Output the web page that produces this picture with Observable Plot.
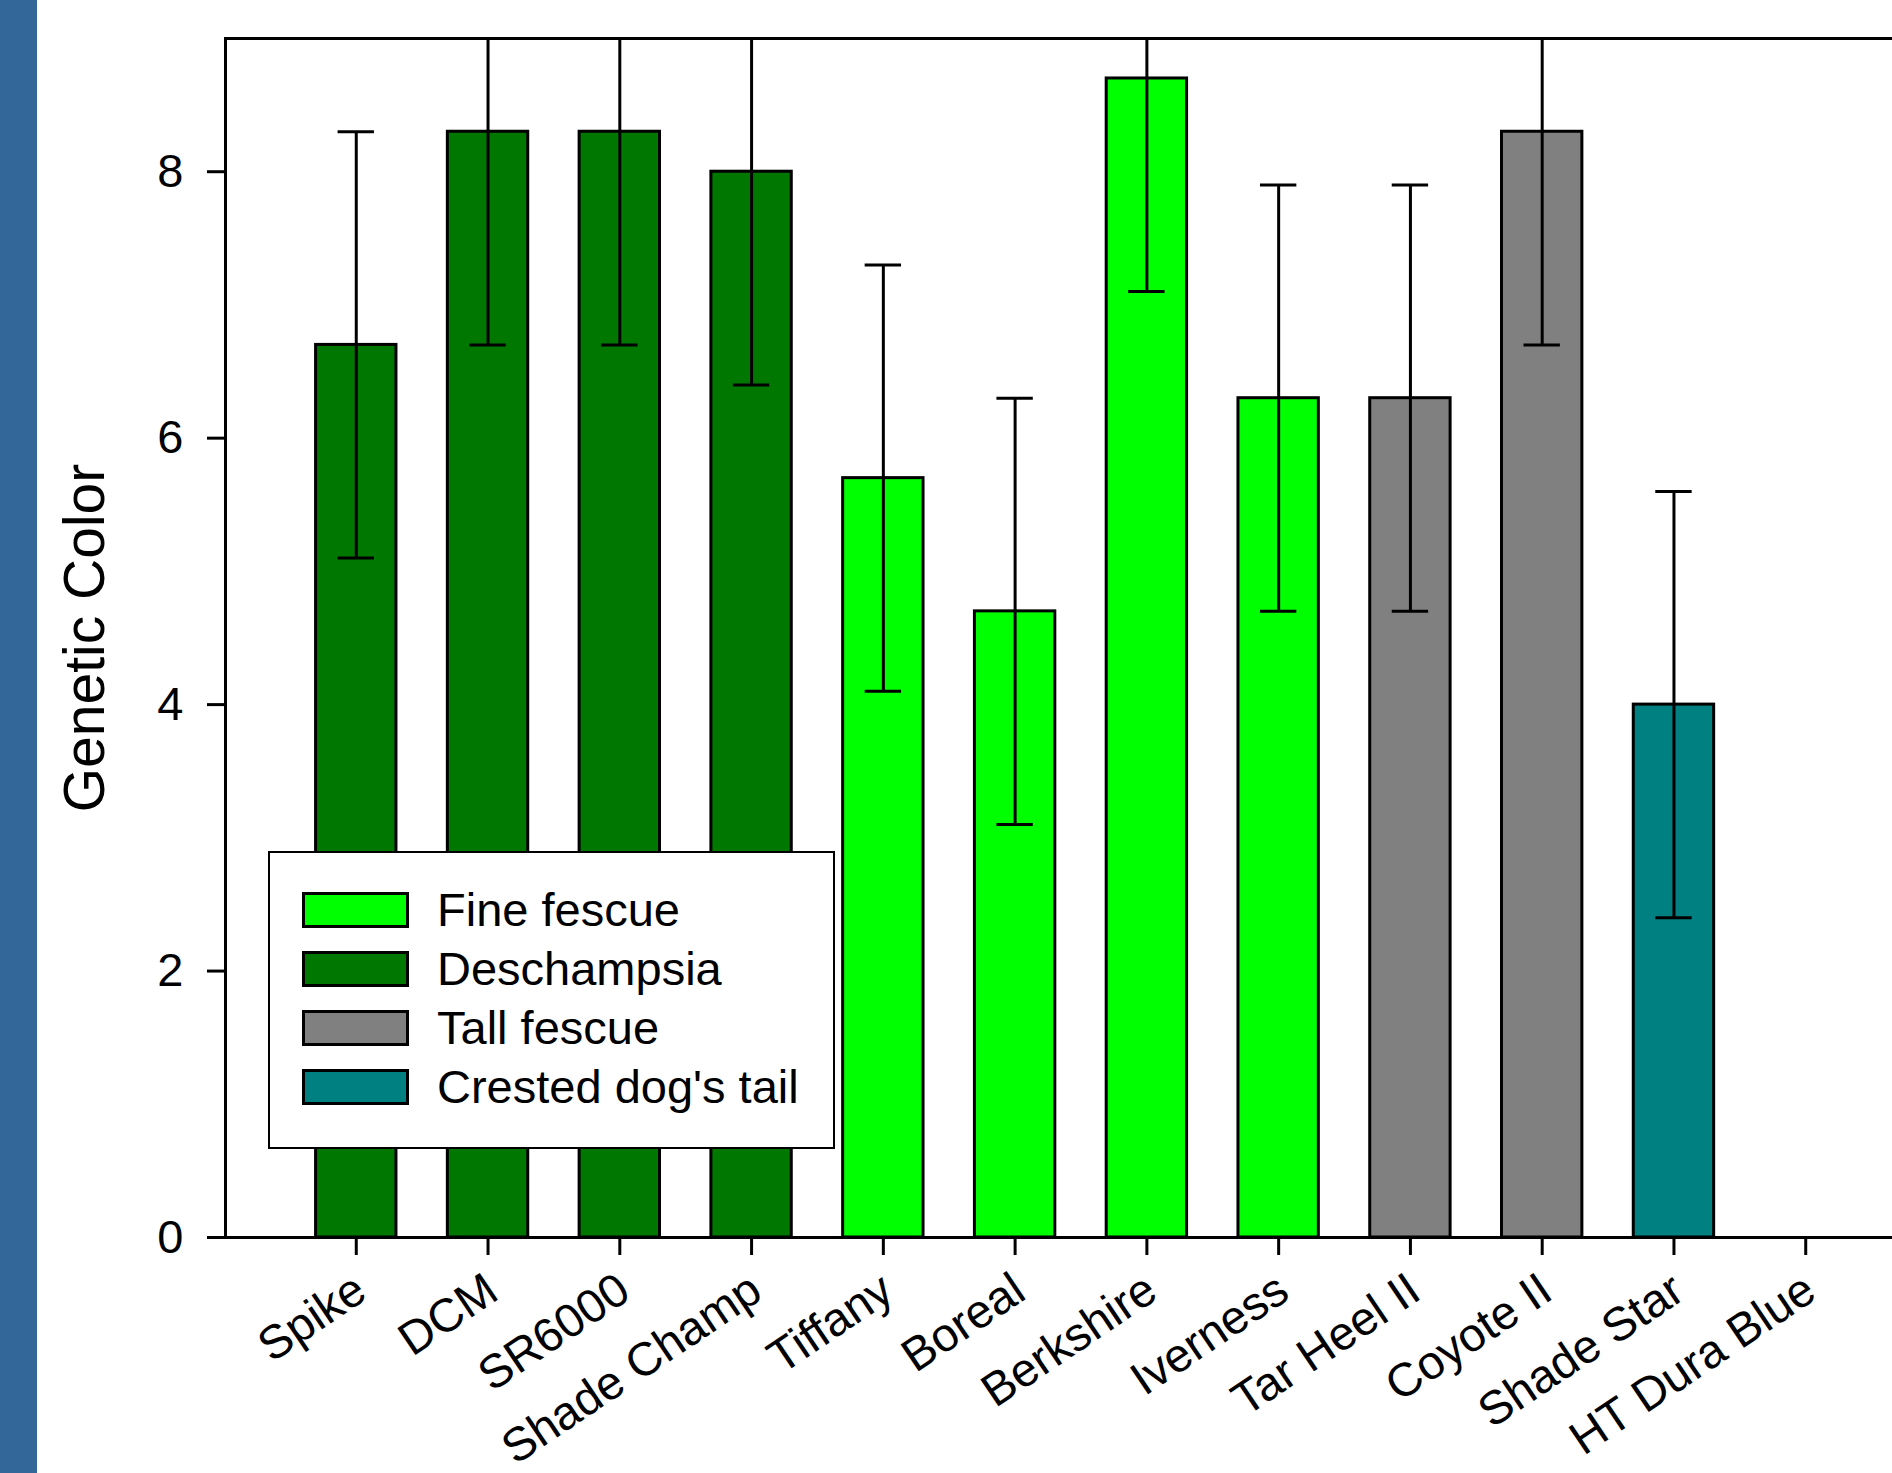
<!DOCTYPE html>
<html>
<head>
<meta charset="utf-8">
<script src="https://cdn.jsdelivr.net/npm/d3@7"></script>
<script src="https://cdn.jsdelivr.net/npm/@observablehq/plot@0.6"></script>
<style>
  body { margin: 0; background: #fff; }
  #wrap { position: relative; width: 1892px; height: 1473px; overflow: hidden; font-family: "Liberation Sans", Arial, sans-serif; }
  #chart { position: absolute; left: 0; top: 0; }
  #strip { position: absolute; left: 0; top: 0; width: 37px; height: 1473px; background: #336699; }
  #legend { position: absolute; left: 268px; top: 851px; width: 567px; height: 298px; box-sizing: border-box;
            border: 2.5px solid #000; background: #fff; }
  .row { position: absolute; left: 32px; height: 36px; display: flex; align-items: center; }
  .sw { width: 107px; height: 36px; box-sizing: border-box; border: 3px solid #000; }
  .lab { margin-left: 28px; font-size: 47px; color: #000; white-space: nowrap; line-height: 1; }
</style>
</head>
<body>
<div id="wrap">
  <div id="chart"></div>
  <div id="strip"></div>
  <div id="legend"></div>
</div>
<script>
const categories = ["Spike", "DCM", "SR6000", "Shade Champ", "Tiffany", "Boreal", "Berkshire", "Iverness", "Tar Heel II", "Coyote II", "Shade Star", "HT Dura Blue"];
const groups = ["Deschampsia", "Deschampsia", "Deschampsia", "Deschampsia", "Fine fescue", "Fine fescue", "Fine fescue", "Fine fescue", "Tall fescue", "Tall fescue", "Crested dog's tail", "Tall fescue"];
const means = [6.7, 8.3, 8.3, 8.0, 5.7, 4.7, 8.7, 6.3, 6.3, 8.3, 4.0, null];
const errors = [1.6, 1.6, 1.6, 1.6, 1.6, 1.6, 1.6, 1.6, 1.6, 1.6, 1.6, null];
const groupOrder = ["Fine fescue", "Deschampsia", "Tall fescue", "Crested dog's tail"];
const groupColors = ["#00ff00", "#007800", "#808080", "#008080"];
const yTicks = [0, 2, 4, 6, 8];
const yLabel = "Genetic Color";

const data = categories.map((name, i) => ({
  name, group: groups[i], mean: means[i],
  lo: means[i] == null ? null : means[i] - errors[i],
  hi: means[i] == null ? null : means[i] + errors[i]
}));
const valid = data.filter(d => d.mean != null);

const font = '"Liberation Sans", Arial, sans-serif';
const chart = Plot.plot({
  width: 1892, height: 1473,
  marginLeft: 225, marginRight: 0, marginTop: 38, marginBottom: 236,
  style: { fontFamily: font, color: "black", background: "white", overflow: "hidden" },
  x: { type: "band", domain: categories, range: [224, 1937], paddingInner: 0.39, paddingOuter: 0.695, round: false },
  y: { domain: [0, 9] },
  color: { domain: groupOrder, range: groupColors },
  marks: [
    Plot.barY(valid, { x: "name", y: "mean", fill: "group", stroke: "black", strokeWidth: 3 }),
    Plot.ruleX(valid, { x: "name", y1: "lo", y2: "hi", stroke: "black", strokeWidth: 3, clip: true }),
    Plot.tickY(valid, { x: "name", y: "hi", stroke: "black", strokeWidth: 3, insetLeft: 22, insetRight: 22, clip: true }),
    Plot.tickY(valid, { x: "name", y: "lo", stroke: "black", strokeWidth: 3, insetLeft: 22, insetRight: 22, clip: true }),
    Plot.ruleY([0, 9], { stroke: "black", strokeWidth: 3 }),
    Plot.frame({ anchor: "left", stroke: "black", strokeWidth: 3 }),
    Plot.axisY({ ticks: yTicks, tickSize: 18, tickPadding: 24, fontSize: 47, strokeWidth: 3, label: null, fill: "black" }),
    Plot.axisX({ tickSize: 18, tickFormat: () => "", strokeWidth: 3, label: null }),
    Plot.text(categories, { x: d => d, frameAnchor: "bottom", dx: 13, dy: 60, rotate: -34, textAnchor: "end", lineAnchor: "bottom", fontSize: 47, fill: "black" }),
    Plot.text([yLabel], { frameAnchor: "left", rotate: -90, dx: -140, textAnchor: "middle", fontSize: 57, fill: "black" })
  ]
});
document.getElementById("chart").appendChild(chart);

const legend = document.getElementById("legend");
const rowCenters = [59, 118, 177, 236];
groupOrder.forEach((g, i) => {
  const row = document.createElement("div");
  row.className = "row";
  row.style.top = (rowCenters[i] - 18 - 2.5) + "px";
  const sw = document.createElement("div");
  sw.className = "sw";
  sw.style.background = groupColors[i];
  const lab = document.createElement("span");
  lab.className = "lab";
  lab.textContent = g;
  row.appendChild(sw);
  row.appendChild(lab);
  legend.appendChild(row);
});
</script>
</body>
</html>
